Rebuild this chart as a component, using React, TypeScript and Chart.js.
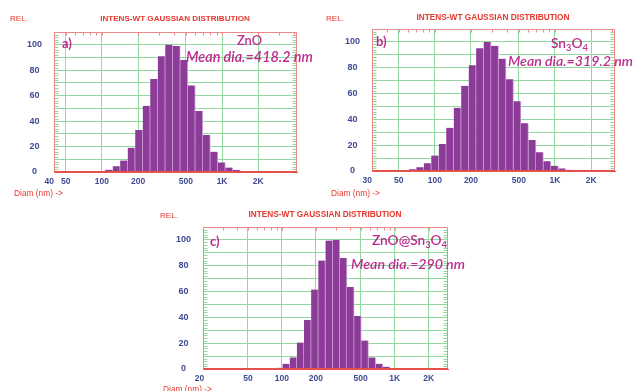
import React, { useEffect, useLayoutEffect, useRef, useState } from 'react';
import { Chart, registerables } from 'chart.js';
Chart.register(...registerables);

// ---------- data ----------
// Panel a: ZnO
const diamA = [64.4, 85.9, 99.2, 114.5, 132.2, 152.7, 176.3, 203.6, 235.1, 271.5, 313.5, 362.0, 418.1, 482.8, 557.5, 643.8, 743.5, 858.6, 991.4, 1144.9, 1322.1];
const relA = [0.4, 0.4, 0.8, 1.8, 4.5, 9, 19, 33, 52, 73, 91, 100, 99, 88, 68, 48, 29, 16, 7.5, 3.5, 1.6];
// Panel b: Sn3O4
const diamB = [42.5, 56.6, 65.3, 75.4, 87.0, 100.4, 115.9, 133.7, 154.3, 178.1, 205.5, 237.2, 273.7, 315.9, 364.5, 420.7, 485.5, 560.3, 646.6, 746.2, 861.1, 993.8, 1146.8, 1323.4, 1762];
const relB = [0.7, 0.5, 1.3, 3, 6, 12, 21, 33.5, 49, 66, 82, 95, 100, 97, 87, 71, 54, 37, 24, 14.5, 7.5, 4, 2, 1, 0.8];
// Panel c: ZnO@Sn3O4
const diamC = [70.3, 94.2, 109.0, 126.2, 146.1, 169.1, 195.7, 226.5, 262.2, 303.5, 351.3, 406.6, 470.7, 544.8, 630.6, 729.9, 844.9, 1132];
const relC = [0.8, 1, 4, 9, 20.5, 38, 61.5, 84, 99.5, 100, 86, 63.6, 41, 22, 9, 4, 1.8, 0.8];

const ticksA = [40, 50, 100, 200, 500, 1000, 2000];
const ticksB = [30, 50, 100, 200, 500, 1000, 2000];
const ticksC = [20, 50, 100, 200, 500, 1000, 2000];
const yLabels = [0, 20, 40, 60, 80, 100];
const Y_MAX = 110;

const TITLE = 'INTENS-WT GAUSSIAN DISTRIBUTION';
const REL = 'REL.';
const XLAB = 'Diam (nm) ->';

// ---------- styles ----------
const BAR = '#8c3b98';
const BAR_EDGE = '#d2aad8';
const GRID = '#90d89d';
const FRAME = '#ec8a8a';
const AXIS_RED = '#e4504a';
const TICK = '#3f4a92';
const RED = '#e6392f';
const MAG = '#bc2b8e';
const SANS = '"Liberation Sans", Arial, sans-serif';
const ANN = 'Lato, "Open Sans", sans-serif';

type Rect = { l: number; t: number; w: number; h: number };
type Plot = { l: number; t: number; r: number; b: number };
type PanelCfg = { diam: number[]; rel: number[]; ticks: number[]; xMin: number; xMax: number; firstPad: string; canvas: Rect; plot: Plot };

const fmt = (v: number) => (v >= 1000 ? `${v / 1000}K` : String(v));

const framePlugin = {
  id: 'frame',
  afterDraw(chart: any) {
    const { ctx, chartArea: a, scales } = chart;
    const x = scales.x;
    const y = scales.y;
    const L = Math.round(a.left) + 0.5;
    const R = Math.round(a.right) - 0.5;
    const T = Math.round(a.top) + 0.5;
    const B = Math.round(a.bottom) - 0.5;
    ctx.save();
    ctx.lineWidth = 1;
    // minor y ticks on both sides
    ctx.strokeStyle = GRID;
    ctx.beginPath();
    for (let v = 2; v < Y_MAX; v += 2) {
      if (v % 10 === 0) continue;
      const py = Math.round(y.getPixelForValue(v)) + 0.5;
      ctx.moveTo(L, py); ctx.lineTo(L + 4, py);
      ctx.moveTo(R, py); ctx.lineTo(R - 4, py);
    }
    ctx.stroke();
    // minor log ticks on top
    ctx.strokeStyle = FRAME;
    ctx.beginPath();
    const e0 = Math.floor(Math.log10(x.min));
    const e1 = Math.ceil(Math.log10(x.max));
    for (let e = e0; e <= e1; e++) {
      for (let m = 1; m <= 9; m++) {
        const v = m * Math.pow(10, e);
        if (v <= x.min || v >= x.max) continue;
        const px = Math.round(x.getPixelForValue(v)) + 0.5;
        ctx.moveTo(px, T); ctx.lineTo(px, T + 3);
      }
    }
    ctx.stroke();
    // frame
    ctx.strokeStyle = FRAME;
    ctx.beginPath();
    ctx.moveTo(L, B); ctx.lineTo(L, T); ctx.lineTo(R, T); ctx.lineTo(R, B);
    ctx.stroke();
    ctx.strokeStyle = AXIS_RED;
    ctx.beginPath();
    ctx.moveTo(L - 0.5, B); ctx.lineTo(R + 0.5, B);
    ctx.stroke();
    ctx.restore();
  },
};

function ChartPanel({ cfg }: { cfg: PanelCfg }) {
  const ref = useRef<HTMLCanvasElement>(null);
  const c = cfg.canvas;
  useEffect(() => {
    const p = cfg.plot;
    const X_AXIS_H = 14;
    const xFont = { family: SANS, size: 8.5, weight: 'bold' as const };
    const yFont = { family: SANS, size: 9, weight: 'bold' as const };
    const chart = new Chart(ref.current as HTMLCanvasElement, {
      type: 'bar',
      data: {
        datasets: [
          {
            data: cfg.diam.map((d, i) => ({ x: d, y: cfg.rel[i] })) as any,
            backgroundColor: BAR,
            borderColor: BAR_EDGE,
            borderWidth: { left: 0, right: 1, top: 0, bottom: 0 },
            borderSkipped: false,
            barPercentage: 1,
            categoryPercentage: 1,
          },
        ],
      },
      options: {
        responsive: false,
        animation: false,
        events: [],
        layout: {
          padding: { left: 0, top: p.t - c.t, right: c.l + c.w - p.r, bottom: c.t + c.h - p.b - X_AXIS_H },
        },
        plugins: { legend: { display: false }, tooltip: { enabled: false }, title: { display: false } },
        scales: {
          x: {
            type: 'logarithmic',
            min: cfg.xMin,
            max: cfg.xMax,
            offset: false,
            grid: { offset: false, color: GRID, drawTicks: false, lineWidth: 1 },
            border: { color: AXIS_RED, width: 1 },
            ticks: {
              autoSkip: false,
              maxRotation: 0,
              padding: 5,
              color: TICK,
              font: xFont,
              callback: (v: any, i: number) => (i === 0 ? fmt(Number(v)) + cfg.firstPad : fmt(Number(v))),
            },
            afterBuildTicks: (s: any) => {
              s.ticks = cfg.ticks.map((v) => ({ value: v }));
            },
            afterFit: (s: any) => {
              s.height = X_AXIS_H;
            },
          } as any,
          y: {
            min: 0,
            max: Y_MAX,
            grid: { color: GRID, drawTicks: false, lineWidth: 1 },
            border: { color: FRAME, width: 1 },
            ticks: {
              stepSize: 10,
              autoSkip: false,
              padding: 12,
              crossAlign: 'center',
              color: TICK,
              font: yFont,
              callback: (v: any) => (yLabels.includes(Number(v)) ? String(v) : ''),
            },
            afterFit: (s: any) => {
              s.width = p.l - c.l;
            },
          } as any,
        },
      },
      plugins: [framePlugin],
    });
    return () => chart.destroy();
  }, [cfg]);
  return (
    <canvas
      ref={ref}
      width={c.w}
      height={c.h}
      style={{ position: 'absolute', left: c.l, top: c.t, width: c.w, height: c.h }}
    />
  );
}

type LabelProps = {
  x: number;
  y: number;
  w?: number;
  size: number;
  center?: boolean;
  style?: React.CSSProperties;
  children: React.ReactNode;
};

function Label({ x, y, w, size, center, style, children }: LabelProps) {
  const ref = useRef<HTMLDivElement>(null);
  const [fs, setFs] = useState(size);
  useLayoutEffect(() => {
    if (!w || !ref.current) return;
    const mw = ref.current.getBoundingClientRect().width;
    if (mw > 0) setFs((size * w) / mw);
  }, [w, size]);
  const lh = 20;
  return (
    <div
      ref={ref}
      style={{
        position: 'absolute',
        left: x,
        top: y - lh / 2,
        lineHeight: `${lh}px`,
        height: lh,
        fontSize: fs,
        whiteSpace: 'nowrap',
        transform: center ? 'translateX(-50%)' : undefined,
        ...style,
      }}
    >
      {children}
    </div>
  );
}

const subStyle: React.CSSProperties = { fontSize: '0.68em', verticalAlign: '-0.32em', lineHeight: 0 };

const panelA: PanelCfg = {
  diam: diamA, rel: relA, ticks: ticksA, xMin: 40, xMax: 4200, firstPad: '    ',
  canvas: { l: 0, t: 0, w: 305, h: 200 },
  plot: { l: 54, t: 32, r: 297, b: 172 },
};
const panelB: PanelCfg = {
  diam: diamB, rel: relB, ticks: ticksB, xMin: 30, xMax: 3160, firstPad: '    ',
  canvas: { l: 318, t: 0, w: 316, h: 200 },
  plot: { l: 372, t: 29, r: 615, b: 171 },
};
const panelC: PanelCfg = {
  diam: diamC, rel: relC, ticks: ticksC, xMin: 20, xMax: 2970, firstPad: '   ',
  canvas: { l: 150, t: 200, w: 330, h: 191 },
  plot: { l: 203, t: 227, r: 448, b: 369 },
};

const redSmall: React.CSSProperties = { fontFamily: SANS, color: RED };
const redTitle: React.CSSProperties = { fontFamily: SANS, color: RED, fontWeight: 'bold' };
const magBold: React.CSSProperties = { fontFamily: ANN, color: MAG, fontWeight: 'bold' };
const magName: React.CSSProperties = { fontFamily: ANN, color: MAG, fontWeight: 600 };
const magMean: React.CSSProperties = { fontFamily: ANN, color: MAG, fontStyle: 'italic', fontWeight: 600 };

export default function App() {
  return (
    <div
      style={{
        position: 'fixed',
        left: 0,
        top: 0,
        width: 634,
        height: 391,
        background: '#fff',
        overflow: 'hidden',
      }}
    >
      <ChartPanel cfg={panelA} />
      <ChartPanel cfg={panelB} />
      <ChartPanel cfg={panelC} />

      {/* panel a */}
      <Label x={10} y={19} size={8} w={18} style={redSmall}>{REL}</Label>
      <Label x={175} y={19} size={8} w={150} center style={redTitle}>{TITLE}</Label>
      <Label x={14} y={193} size={8.5} w={49} style={redSmall}>{XLAB}</Label>
      <Label x={62} y={43} size={13} style={magBold}>a)</Label>
      <Label x={237} y={40} size={13} w={25} style={magName}>ZnO</Label>
      <Label x={186} y={57} size={14} w={127} style={magMean}>Mean dia.=418.2 nm</Label>

      {/* panel b */}
      <Label x={326} y={19} size={8} w={18} style={redSmall}>{REL}</Label>
      <Label x={493} y={17.5} size={8} w={153} center style={redTitle}>{TITLE}</Label>
      <Label x={331} y={193} size={8.5} w={49} style={redSmall}>{XLAB}</Label>
      <Label x={376} y={41} size={13} style={magBold}>b)</Label>
      <Label x={551} y={43} size={13} w={37} style={magName}>
        Sn<sub style={subStyle}>3</sub>O<sub style={subStyle}>4</sub>
      </Label>
      <Label x={508} y={61} size={14} w={125} style={magMean}>Mean dia.=319.2 nm</Label>

      {/* panel c */}
      <Label x={160} y={216} size={8} w={18} style={redSmall}>{REL}</Label>
      <Label x={325} y={215} size={8} w={153} center style={redTitle}>{TITLE}</Label>
      <Label x={163} y={389} size={8.5} w={49} style={redSmall}>{XLAB}</Label>
      <Label x={210} y={241} size={13} style={magBold}>c)</Label>
      <Label x={372} y={240} size={13} w={75} style={magName}>
        ZnO@Sn<sub style={subStyle}>3</sub>O<sub style={subStyle}>4</sub>
      </Label>
      <Label x={351} y={263.5} size={14} w={114} style={magMean}>Mean dia.=290 nm</Label>
    </div>
  );
}
